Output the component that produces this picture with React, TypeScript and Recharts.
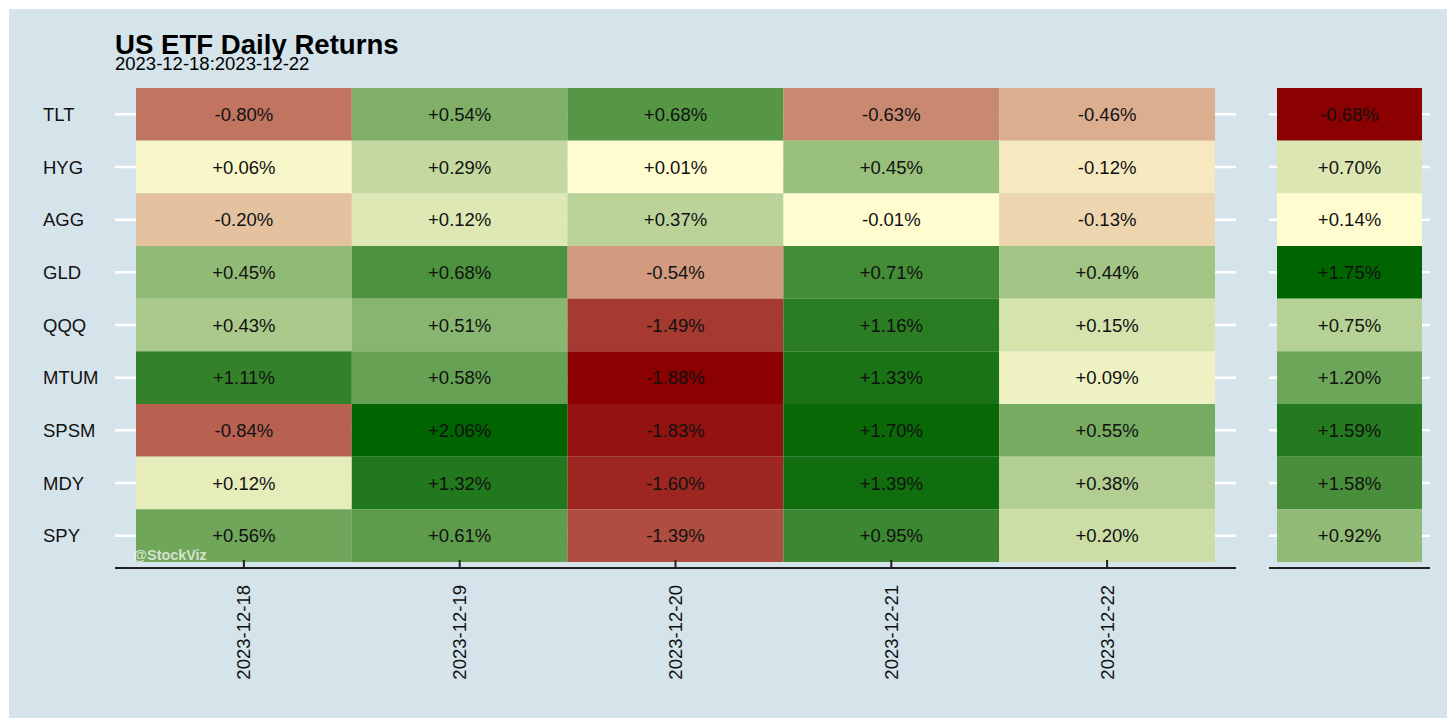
import React from "react";
import { ScatterChart, Scatter, XAxis, YAxis, ReferenceLine } from "recharts";

// tickers listed top to bottom, as in the picture
const tickers = ["TLT", "HYG", "AGG", "GLD", "QQQ", "MTUM", "SPSM", "MDY", "SPY"];
const dates = ["2023-12-18", "2023-12-19", "2023-12-20", "2023-12-21", "2023-12-22"];

// daily returns in %, one array per date, same order as tickers
const ret1218 = [-0.8, 0.06, -0.2, 0.454, 0.43, 1.11, -0.84, 0.118, 0.56];
const ret1219 = [0.54, 0.29, 0.123, 0.684, 0.51, 0.58, 2.06, 1.32, 0.61];
const ret1220 = [0.676, 0.01, 0.37, -0.54, -1.49, -1.88, -1.83, -1.6, -1.39];
const ret1221 = [-0.63, 0.448, -0.01, 0.71, 1.16, 1.33, 1.7, 1.39, 0.95];
const ret1222 = [-0.46, -0.12, -0.13, 0.44, 0.15, 0.09, 0.55, 0.38, 0.2];
const dailyReturns = [ret1218, ret1219, ret1220, ret1221, ret1222];

// cumulative return over the week
const totalReturns = [-0.68, 0.7, 0.14, 1.75, 0.75, 1.2, 1.59, 1.58, 0.92];

const FONT = '"Liberation Sans", Arial, Helvetica, sans-serif';
const MID = [255, 252, 208];
const LOW = [139, 0, 0];
const HIGH = [0, 100, 0];

// plot geometry
const PLOT_TOP = 88;
const AXIS_Y = 568;
const PAD_BOTTOM = 6;
const ROW_H = (AXIS_Y - PAD_BOTTOM - PLOT_TOP) / tickers.length;
const MAIN_LEFT = 115;
const MAIN_RIGHT = 1236;
const MAIN_PAD = 21;
const MAIN_COL_W = (MAIN_RIGHT - MAIN_LEFT - 2 * MAIN_PAD) / dates.length;
const SIDE_LEFT = 1269;
const SIDE_RIGHT = 1430;
const SIDE_PAD = 8;
const SIDE_COL_W = SIDE_RIGHT - SIDE_LEFT - 2 * SIDE_PAD;

const mix = (a: number[], b: number[], t: number) =>
  `rgb(${a.map((v, i) => Math.round(v + (b[i] - v) * t)).join(",")})`;

// colour by rank inside each sign: smallest move = pale yellow, largest = dark red / dark green
function rankFills(values: number[]) {
  const neg = values.filter((v) => v < 0);
  const pos = values.filter((v) => v >= 0);
  return values.map((v) => {
    if (v < 0) {
      const r = neg.filter((x) => x > v).length;
      return mix(MID, LOW, neg.length > 1 ? r / (neg.length - 1) : 1);
    }
    const r = pos.filter((x) => x < v).length;
    return mix(MID, HIGH, pos.length > 1 ? r / (pos.length - 1) : 1);
  });
}

const fmt = (v: number) => `${v < 0 ? "-" : "+"}${Math.abs(v).toFixed(2)}%`;

const dailyFlat = dailyReturns.flat();
const dailyFills = rankFills(dailyFlat);
const dailyCells = dates.flatMap((d, di) =>
  tickers.map((t, ti) => {
    const idx = di * tickers.length + ti;
    return { date: d, ticker: t, value: dailyFlat[idx], fill: dailyFills[idx] };
  })
);

const totalFills = rankFills(totalReturns);
const totalCells = tickers.map((t, ti) => ({
  col: "total",
  ticker: t,
  value: totalReturns[ti],
  fill: totalFills[ti],
}));

const makeTile = (w: number) => (props: any) => {
  const { cx, cy, payload } = props;
  return (
    <g>
      <rect x={cx - w / 2} y={cy - ROW_H / 2} width={w} height={ROW_H} fill={payload.fill} />
      <text
        x={cx}
        y={cy}
        textAnchor="middle"
        dominantBaseline="central"
        fontFamily={FONT}
        fontSize={18.5}
        fill="#111"
      >
        {fmt(payload.value)}
      </text>
    </g>
  );
};

const DateTick = (props: any) => {
  const { x, y, payload } = props;
  const ty = y + 17;
  return (
    <g>
      <line x1={x} x2={x} y1={y - 8} y2={y} stroke="#222" strokeWidth={2} />
      <text
        x={x}
        y={ty}
        transform={`rotate(-90 ${x} ${ty})`}
        textAnchor="end"
        dominantBaseline="central"
        fontFamily={FONT}
        fontSize={18.5}
        fill="#111"
      >
        {payload.value}
      </text>
    </g>
  );
};

const TickerTick = (props: any) => {
  const { y, payload } = props;
  return (
    <text
      x={43}
      y={y}
      textAnchor="start"
      dominantBaseline="central"
      fontFamily={FONT}
      fontSize={18.5}
      fill="#111"
    >
      {payload.value}
    </text>
  );
};

export default function App() {
  return (
    <div style={{ position: "absolute", left: 0, top: 0, width: 1456, height: 728, background: "#fff" }}>
      <div
        style={{ position: "absolute", left: 9, top: 9, width: 1438, height: 709, background: "#d5e4eb" }}
      />
      <div style={{ position: "absolute", left: 0, top: 0 }}>
        <ScatterChart
          width={1456}
          height={728}
          margin={{ top: PLOT_TOP, right: 1456 - MAIN_RIGHT, bottom: 0, left: MAIN_LEFT - 72 }}
        >
          <XAxis
            type="category"
            dataKey="date"
            allowDuplicatedCategory={false}
            height={728 - AXIS_Y}
            padding={{ left: MAIN_PAD, right: MAIN_PAD }}
            axisLine={{ stroke: "#222", strokeWidth: 2 }}
            tickLine={false}
            tickSize={0}
            tickMargin={0}
            interval={0}
            tick={<DateTick />}
          />
          <YAxis
            type="category"
            dataKey="ticker"
            allowDuplicatedCategory={false}
            reversed
            width={72}
            padding={{ top: 0, bottom: PAD_BOTTOM }}
            axisLine={false}
            tickLine={false}
            interval={0}
            tick={<TickerTick />}
          />
          {tickers.map((t) => (
            <ReferenceLine key={t} y={t} stroke="#fff" strokeWidth={2.5} />
          ))}
          <Scatter data={dailyCells} shape={makeTile(MAIN_COL_W)} isAnimationActive={false} />
        </ScatterChart>
      </div>
      <div style={{ position: "absolute", left: 0, top: 0 }}>
        <ScatterChart
          width={1456}
          height={728}
          margin={{ top: PLOT_TOP, right: 1456 - SIDE_RIGHT, bottom: 0, left: SIDE_LEFT }}
        >
          <XAxis
            type="category"
            dataKey="col"
            allowDuplicatedCategory={false}
            height={728 - AXIS_Y}
            padding={{ left: SIDE_PAD, right: SIDE_PAD }}
            axisLine={{ stroke: "#222", strokeWidth: 2 }}
            tickLine={false}
            tick={false}
          />
          <YAxis
            type="category"
            dataKey="ticker"
            allowDuplicatedCategory={false}
            reversed
            hide
            padding={{ top: 0, bottom: PAD_BOTTOM }}
          />
          {tickers.map((t) => (
            <ReferenceLine key={t} y={t} stroke="#fff" strokeWidth={2.5} />
          ))}
          <Scatter data={totalCells} shape={makeTile(SIDE_COL_W)} isAnimationActive={false} />
        </ScatterChart>
      </div>
      <svg
        width={1456}
        height={728}
        style={{ position: "absolute", left: 0, top: 0, pointerEvents: "none" }}
      >
        <text x={115} y={54} fontFamily={FONT} fontSize={27.6} fontWeight="bold" fill="#000">
          US ETF Daily Returns
        </text>
        <text x={115} y={70} fontFamily={FONT} fontSize={18.5} fill="#000">
          2023-12-18:2023-12-22
        </text>
        <text
          x={133}
          y={560}
          fontFamily={FONT}
          fontSize={14.4}
          fontWeight="bold"
          fill="#fff"
          fillOpacity={0.7}
        >
          @StockViz
        </text>
      </svg>
    </div>
  );
}
